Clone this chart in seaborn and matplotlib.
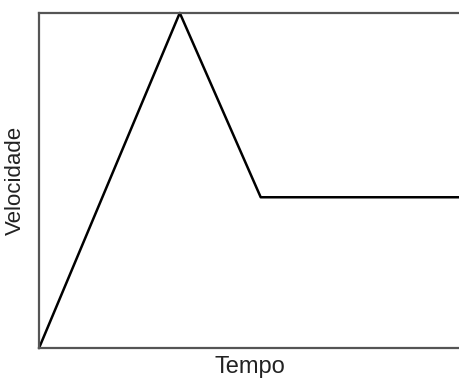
import matplotlib
matplotlib.use("Agg")
import matplotlib.pyplot as plt
import seaborn as sns
import pandas as pd

# Data -------------------------------------------------------------------
tempo = [0, 2, 3.15, 6]
velocidade = [0, 10, 4.5, 4.5]

df = pd.DataFrame({"Tempo": tempo, "Velocidade": velocidade})

sns.set_style("white")
plt.rcParams['font.family'] = ['Liberation Sans', 'DejaVu Sans']

fig = plt.figure(figsize=(4.59, 3.80), dpi=100)
ax = fig.add_axes([0.085, 0.084, 0.92, 0.882])

sns.lineplot(data=df, x="Tempo", y="Velocidade", color="black", linewidth=1.8,
             sort=False, ax=ax, clip_on=False)

ax.set_xlim(0, 6)
ax.set_ylim(0, 10)
ax.set_xticks([])
ax.set_yticks([])
ax.set_xlabel("Tempo", fontsize=17, labelpad=6, color="#222222")
ax.set_ylabel("Velocidade", fontsize=16, labelpad=9.5, color="#222222")

for s in ["left", "bottom", "top"]:
    ax.spines[s].set_color("#555555")
    ax.spines[s].set_linewidth(1.6)
ax.spines["right"].set_visible(False)

fig.savefig("out.png", dpi=100)
